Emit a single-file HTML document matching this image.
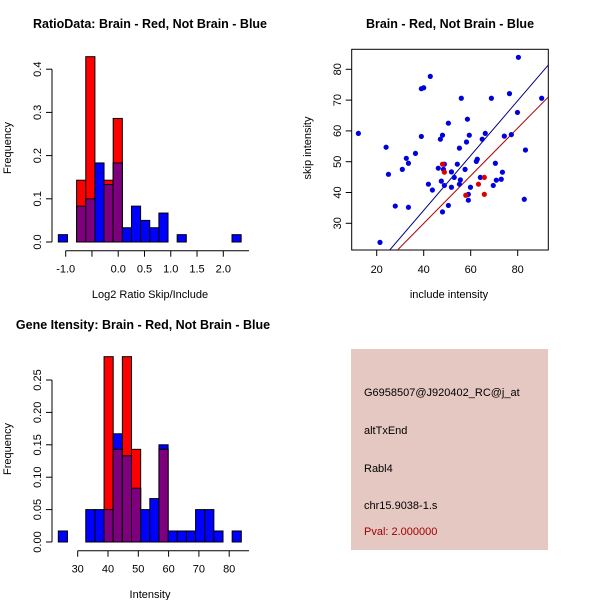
<!DOCTYPE html>
<html><head><meta charset="utf-8"><style>
body{margin:0;background:#fff}
svg{display:block;font-family:"Liberation Sans",sans-serif}
</style></head><body>
<svg id="s" width="600" height="600" viewBox="0 0 600 600">
<rect width="600" height="600" fill="#fff"/>
<text x="150" y="28" text-anchor="middle" font-size="12.5" font-weight="bold">RatioData: Brain - Red, Not Brain - Blue</text>
<text x="450" y="28" text-anchor="middle" font-size="12.5" font-weight="bold">Brain - Red, Not Brain - Blue</text>
<text x="143" y="329" text-anchor="middle" font-size="12.5" font-weight="bold">Gene Itensity: Brain - Red, Not Brain - Blue</text>
<g id="g1"></g>
<g id="g2"></g>
<g id="g3"></g>
<g>
<rect x="351" y="349" width="197" height="201" fill="#e6c8c2"/>
<text x="364" y="396" font-size="11">G6958507@J920402_RC@j_at</text>
<text x="364" y="434" font-size="11">altTxEnd</text>
<text x="364" y="472" font-size="11">Rabl4</text>
<text x="364" y="509" font-size="11">chr15.9038-1.s</text>
<text x="364" y="535" font-size="11" fill="#a00000">Pval: 2.000000</text>
</g>
</svg>
<script>
// Ratio histogram data
const ratioStart = -1.14, ratioWidth = 0.174;
const ratioBlue = [0.017,0,0.083,0.1,0.183,0.133,0.183,0.033,0.083,0.05,0.033,0.067,0,0.017,0,0,0,0,0,0.017];
const ratioRed  = [0,0,0.143,0.429,0,0.143,0.286,0,0,0,0,0,0,0,0,0,0,0,0,0];
const ratioXTicks = [-1.0,0.0,0.5,1.0,1.5,2.0];
const ratioXTickPos = [-1.0,-0.5,0.0,0.5,1.0,1.5,2.0];
const ratioYTicks = [0.0,0.1,0.2,0.3,0.4];
// Intensity histogram data
const intStart = 23.6, intWidth = 3.02;
const intBlue = [0.017,0,0,0.05,0.05,0.05,0.167,0.133,0.083,0.05,0.067,0.15,0.017,0.017,0.017,0.05,0.05,0.017,0,0.017];
const intRed  = [0,0,0,0,0,0.286,0.143,0.286,0.143,0,0,0.143,0,0,0,0,0,0,0,0];
const intXTicks = [30,40,50,60,70,80];
const intYTicks = [0.00,0.05,0.10,0.15,0.20,0.25];
// Scatter data
const blueX = [12.2,21.4,24,25,27.9,30.9,32.6,33.5,33.5,36.5,39,40,42.8,39,42,43.7,46.2,47.1,48,47.5,48.4,48.8,48.8,48,50.5,50.5,51.8,51.8,53,54.3,55.2,55.2,55.6,56,57.6,58.2,58.6,59,59,59.4,59.9,62.4,62.8,64.1,64.9,66.2,68.8,70.5,69.6,70.9,73,73.5,74.3,77.3,76.5,79.9,80.3,83.3,82.8,90.2];
const blueY = [59.2,23.8,54.7,45.9,35.6,47.5,51.1,49.5,35.2,52.7,73.7,74,77.7,58.2,42.7,40.8,47.9,57.3,58.6,43.7,47.5,49.2,42.3,33.7,62.5,35.8,46.7,41.7,44.9,49.2,54.4,42.7,44.1,70.6,47.5,56.4,63.8,39.4,37.5,58.6,41.7,50.1,50.8,44.9,57.3,59.2,70.6,49.5,42.3,44,44.3,46.6,58.3,58.8,72.1,66,83.9,53.8,37.8,70.6];
const redX = [48,48.8,57.9,63.3,65.8,65.8];
const redY = [49.2,46.6,39.1,42.7,44.9,39.4];
const blueLine = [0.89,-1.4];
const redLine = [0.774,-1.0];
const scXTicks = [20,40,60,80];
const scYTicks = [30,40,50,60,70,80];

const NS="http://www.w3.org/2000/svg";
function mk(p,t,a){const e=document.createElementNS(NS,t);for(const k in a)e.setAttribute(k,a[k]);p.appendChild(e);return e;}

function hist(g,start,w,blue,red,xs,ys,xTicks,xTickPos,yTicks,yLab,xLab,decimals,axY,labY,titleY,xLabX){
  const b0=blue.length;
  for(let i=0;i<b0;i++){
    const x0=xs(start+i*w),x1=xs(start+(i+1)*w);
    const bv=blue[i],rv=red[i],m=Math.min(bv,rv);
    if(bv>0){const r=mk(g,'rect',{x:x0,y:ys(bv),width:x1-x0,height:ys(0)-ys(bv),fill:'#0000ff',stroke:'#000','stroke-width':1});
      }
    if(rv>0){const r=mk(g,'rect',{x:x0,y:ys(rv),width:x1-x0,height:ys(0)-ys(rv),fill:'#ff0000',stroke:'#000','stroke-width':1});
      }
    if(m>0){const r=mk(g,'rect',{x:x0,y:ys(m),width:x1-x0,height:ys(0)-ys(m),fill:'#7f007f',stroke:'#000','stroke-width':1});
      }
  }
  const yx=52;
  mk(g,'line',{x1:yx,x2:yx,y1:ys(yTicks[0]),y2:ys(yTicks[yTicks.length-1]),stroke:'#000'});
  yTicks.forEach(v=>{const y=ys(v);mk(g,'line',{x1:yx-6,x2:yx,y1:y,y2:y,stroke:'#000'});
    const t=mk(g,'text',{x:0,y:0,transform:`translate(${yx-11},${y}) rotate(-90)`,'text-anchor':'middle','font-size':11});
    t.textContent=v.toFixed(decimals);});
  const pos=xTickPos;
  mk(g,'line',{x1:xs(pos[0]),x2:249,y1:axY,y2:axY,stroke:'#000'});
  pos.forEach(v=>mk(g,'line',{x1:xs(v),x2:xs(v),y1:axY,y2:axY+6,stroke:'#000'}));
  xTicks.forEach(v=>{const t=mk(g,'text',{x:xs(v),y:axY+22,'text-anchor':'middle','font-size':11});
    t.textContent=(decimals==1?v.toFixed(1):v);});
  const xl=mk(g,'text',{x:xLabX,y:labY,'text-anchor':'middle','font-size':11});
  xl.textContent=xLab;
  const yl=mk(g,'text',{x:0,y:0,transform:`translate(11,${titleY}) rotate(-90)`,'text-anchor':'middle','font-size':11});
  yl.textContent=yLab;
}

const g1=document.getElementById('g1');
hist(g1,ratioStart,ratioWidth,ratioBlue,ratioRed,v=>65.7+(v+1)*52.53,v=>242-v*432,ratioXTicks,ratioXTickPos,ratioYTicks,'Frequency','Log2 Ratio Skip/Include',1,250.7,298,148,150);
const g3=document.getElementById('g3');
hist(g3,intStart,intWidth,intBlue,intRed,v=>77.7+(v-30)*3.03,v=>542-v*648,intXTicks,intXTicks,intYTicks,'Frequency','Intensity',2,550.7,598,449,150);

const g2=document.getElementById('g2');
const sx=v=>376.7+(v-20)*2.35, sy=v=>223.3-(v-30)*3.08;
const cp=mk(g2,'clipPath',{id:'cp'});mk(cp,'rect',{x:352,y:49.5,width:196,height:200.5});
mk(g2,'rect',{x:351.7,y:49.3,width:196.6,height:200.7,fill:'none',stroke:'#000'});
const lg=mk(g2,'g',{'clip-path':'url(#cp)'});
[[blueLine,'#00008b','blue-regression-line'],[redLine,'#b00000','red-regression-line']].forEach(([L,c,n])=>{
  const l=mk(lg,'line',{x1:sx(0),y1:sy(L[1]),x2:sx(100),y2:sy(L[0]*100+L[1]),stroke:c,'stroke-width':1});
  });
blueX.forEach((x,i)=>{const c=mk(g2,'circle',{cx:sx(x),cy:sy(blueY[i]),r:2.6,fill:'#0000dd'});
  });
redX.forEach((x,i)=>{const c=mk(g2,'circle',{cx:sx(x),cy:sy(redY[i]),r:2.6,fill:'#dd0000'});
  });
scXTicks.forEach(v=>{mk(g2,'line',{x1:sx(v),x2:sx(v),y1:250,y2:256,stroke:'#000'});
  const t=mk(g2,'text',{x:sx(v),y:273,'text-anchor':'middle','font-size':11});t.textContent=v;
  });
scYTicks.forEach(v=>{mk(g2,'line',{x1:345.7,x2:351.7,y1:sy(v),y2:sy(v),stroke:'#000'});
  const t=mk(g2,'text',{x:0,y:0,transform:`translate(341,${sy(v)}) rotate(-90)`,'text-anchor':'middle','font-size':11});t.textContent=v;
  });
const sxl=mk(g2,'text',{x:449,y:298,'text-anchor':'middle','font-size':11});sxl.textContent='include intensity';

const syl=mk(g2,'text',{x:0,y:0,transform:'translate(311,148) rotate(-90)','text-anchor':'middle','font-size':11});syl.textContent='skip intensity';

</script>
</body></html>
